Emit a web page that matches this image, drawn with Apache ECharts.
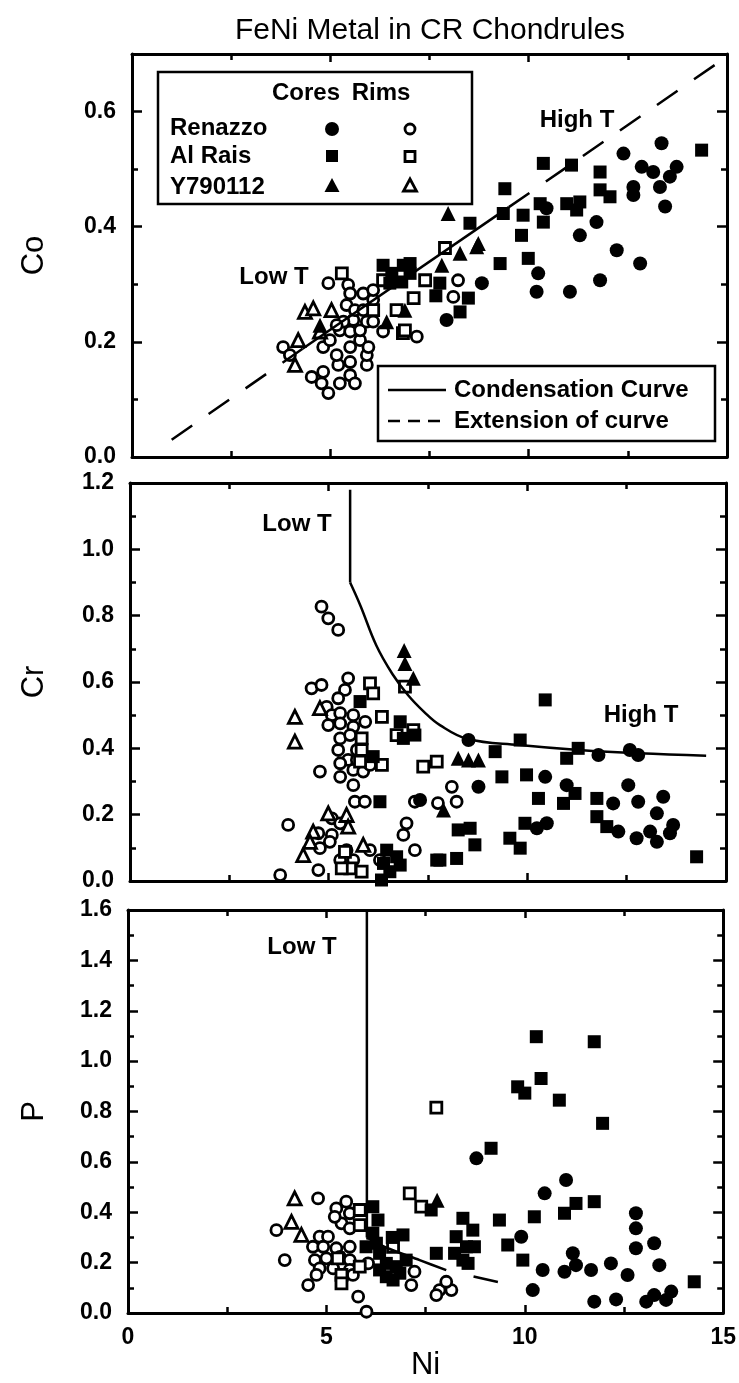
<!DOCTYPE html>
<html><head><meta charset="utf-8">
<script src="https://cdn.jsdelivr.net/npm/echarts/dist/echarts.min.js"></script>
<style>html,body{margin:0;padding:0;background:#fff}#c{width:739px;height:1383px}</style>
</head><body><div id="c"></div>
<script>
// ---------- Panel 1: Co vs Ni ----------
const renazzoCoreCo = [[12.39,0.527],[13.35,0.545],[12.85,0.504],[13.14,0.495],[13.73,0.504],[13.56,0.487],[12.64,0.469],[12.64,0.455],[13.31,0.469],[13.44,0.435],[11.71,0.408],[11.29,0.385],[12.22,0.359],[10.45,0.432],[10.24,0.319],[10.2,0.287],[11.04,0.287],[11.8,0.307],[12.81,0.336],[8.82,0.302],[7.93,0.238]];
const renazzoRimCo = [[4.95,0.302],[5.45,0.299],[3.81,0.191],[3.98,0.177],[4.53,0.139],[4.82,0.148],[4.78,0.128],[4.95,0.111],[5.24,0.128],[5.5,0.142],[5.62,0.128],[5.92,0.16],[5.92,0.177],[5.5,0.165],[5.2,0.16],[4.82,0.191],[4.99,0.203],[5.16,0.177],[5.5,0.191],[5.75,0.203],[5.96,0.191],[5.24,0.22],[5.5,0.218],[5.75,0.22],[5.92,0.235],[5.58,0.238],[5.33,0.235],[5.16,0.229],[5.41,0.264],[5.62,0.255],[5.83,0.255],[5.5,0.284],[5.83,0.284],[6.08,0.273],[6.08,0.29],[6.08,0.235],[6.33,0.218],[7.18,0.209],[8.1,0.278],[8.22,0.307]];
const alRaisCoreCo = [[14.36,0.533],[10.37,0.51],[11.08,0.507],[11.8,0.495],[11.8,0.464],[12.05,0.452],[9.4,0.466],[10.29,0.44],[10.96,0.44],[11.29,0.443],[11.21,0.429],[9.36,0.423],[9.86,0.42],[10.37,0.408],[8.52,0.406],[9.82,0.385],[9.28,0.336],[9.99,0.345],[8.48,0.276],[8.27,0.252],[7.76,0.302],[6.33,0.333],[6.55,0.319],[6.84,0.333],[7.01,0.319],[6.5,0.302],[6.8,0.304],[7.01,0.336],[7.66,0.28]];
const alRaisRimCo = [[7.89,0.363],[7.39,0.307],[7.1,0.276],[6.83,0.215],[5.29,0.319],[6.08,0.255],[6.33,0.307],[6.67,0.255],[6.88,0.22]];
const yCoreCo = [[7.97,0.423],[8.73,0.371],[8.27,0.354],[8.69,0.365],[7.81,0.333],[4.74,0.229],[6.42,0.235],[6.88,0.255]];
const yRimCo = [[4.36,0.252],[4.57,0.258],[5.03,0.255],[4.19,0.203],[4.11,0.16],[4.74,0.218]];
const coCurveLow = [[1.0,0.03],[4.3,0.188]];
const coCurveMid = [[4.3,0.188],[9.5,0.434]];
const coCurveHigh = [[9.5,0.434],[14.8,0.686]];

// ---------- Panel 2: Cr vs Ni ----------
const renazzoCoreCr = [[8.52,0.425],[11.79,0.38],[12.58,0.395],[12.79,0.38],[8.77,0.284],[10.99,0.289],[12.54,0.289],[13.42,0.254],[12.79,0.239],[12.16,0.234],[13.26,0.204],[12.29,0.149],[12.75,0.129],[13.09,0.149],[13.26,0.118],[13.67,0.169],[13.59,0.144],[10.49,0.174],[10.24,0.159],[7.3,0.244],[10.45,0.314]];
const renazzoRimCr = [[4.82,0.827],[4.99,0.792],[5.24,0.757],[4.57,0.581],[4.82,0.591],[5.49,0.611],[5.41,0.576],[5.24,0.551],[4.95,0.525],[5.08,0.5],[4.99,0.47],[5.29,0.506],[5.29,0.475],[5.62,0.5],[5.92,0.48],[5.62,0.465],[5.29,0.43],[5.54,0.44],[5.24,0.395],[5.49,0.365],[5.71,0.365],[5.29,0.355],[5.62,0.335],[5.87,0.33],[6.04,0.35],[5.71,0.395],[5.29,0.314],[5.62,0.289],[4.78,0.33],[5.66,0.239],[5.91,0.239],[7.17,0.239],[7.75,0.235],[3.98,0.169],[5.08,0.189],[5.29,0.174],[4.74,0.144],[5.08,0.139],[4.78,0.099],[5.03,0.118],[4.74,0.033],[3.78,0.018],[6.96,0.174],[6.88,0.139],[7.17,0.093],[6.04,0.093],[6.29,0.063],[5.62,0.063],[5.29,0.063],[5.45,0.093],[8.1,0.284],[8.22,0.239]];
const alRaisCoreCr = [[5.79,0.541],[6.12,0.375],[6.8,0.48],[7.17,0.44],[6.88,0.43],[6.29,0.239],[6.46,0.093],[6.38,0.053],[6.8,0.048],[6.54,0.028],[6.33,0.003],[6.71,0.073],[7.72,0.063],[10.45,0.546],[9.19,0.39],[9.82,0.425],[10.99,0.37],[11.28,0.4],[9.36,0.314],[9.98,0.32],[10.28,0.249],[10.91,0.234],[11.2,0.264],[11.75,0.249],[11.75,0.194],[12.0,0.164],[8.56,0.159],[8.26,0.154],[8.68,0.109],[9.56,0.129],[9.82,0.099],[9.94,0.174],[7.8,0.063],[8.22,0.068],[14.26,0.073]];
const alRaisRimCr = [[6.92,0.586],[6.04,0.596],[6.12,0.566],[6.34,0.495],[5.83,0.43],[5.83,0.395],[5.79,0.36],[6.34,0.35],[6.71,0.44],[7.13,0.455],[7.38,0.345],[7.72,0.36],[5.41,0.088],[5.54,0.038],[5.83,0.028],[5.33,0.038]];
const yCoreCr = [[6.9,0.695],[6.92,0.656],[7.13,0.611],[8.26,0.37],[8.52,0.365],[8.77,0.365],[7.89,0.214]];
const yRimCr = [[4.78,0.521],[4.15,0.495],[4.15,0.42],[4.99,0.204],[5.45,0.199],[4.61,0.149],[4.36,0.078],[4.53,0.118],[5.87,0.109],[5.49,0.164]];
const crCurveVert = [[5.54,1.18],[5.54,0.90]];
const crCurve = [[5.54,0.90],[5.8,0.83],[6.2,0.71],[6.6,0.625],[7.0,0.56],[7.4,0.51],[7.8,0.47],[8.5,0.428],[9.8,0.41],[11.3,0.395],[12.8,0.385],[14.5,0.378]];

// ---------- Panel 3: P vs Ni ----------
const renazzoCoreP = [[8.78,0.614],[11.04,0.528],[10.5,0.475],[9.91,0.303],[12.8,0.396],[12.8,0.336],[12.8,0.257],[13.26,0.277],[13.39,0.19],[11.21,0.237],[11.29,0.19],[11.0,0.164],[10.45,0.171],[11.67,0.171],[12.17,0.197],[12.59,0.151],[10.2,0.091],[11.75,0.045],[12.3,0.054],[13.06,0.045],[13.26,0.071],[13.56,0.052],[13.69,0.085]];
const renazzoRimP = [[4.79,0.455],[3.74,0.329],[3.95,0.21],[4.54,0.111],[5.8,0.065],[6.01,0.005],[7.14,0.111],[7.22,0.164],[5.5,0.442],[5.25,0.415],[5.59,0.396],[5.38,0.356],[5.59,0.336],[5.21,0.382],[4.83,0.303],[5.04,0.303],[4.66,0.263],[4.92,0.263],[5.25,0.257],[5.59,0.263],[4.71,0.21],[5.0,0.217],[5.34,0.223],[5.59,0.21],[4.83,0.177],[5.17,0.177],[5.59,0.171],[4.75,0.151],[5.42,0.144],[5.67,0.151],[6.05,0.197],[7.85,0.091],[8.15,0.091],[8.02,0.124],[7.77,0.071]];
const alRaisCoreP = [[10.29,1.097],[11.75,1.077],[10.41,0.931],[9.82,0.898],[10.0,0.873],[10.87,0.845],[11.96,0.753],[9.15,0.654],[9.36,0.369],[10.24,0.382],[11.0,0.396],[11.29,0.435],[11.75,0.442],[9.57,0.27],[9.95,0.21],[7.77,0.237],[14.27,0.124],[8.44,0.376],[8.69,0.329],[8.27,0.303],[8.53,0.263],[8.73,0.263],[8.23,0.237],[8.44,0.21],[8.57,0.197],[7.64,0.409],[6.17,0.422],[6.3,0.369],[6.93,0.31],[6.66,0.3],[6.17,0.317],[6.0,0.263],[6.34,0.237],[6.51,0.197],[6.76,0.184],[7.01,0.21],[6.51,0.144],[6.68,0.131],[6.34,0.171],[6.85,0.158],[6.26,0.277]];
const alRaisRimP = [[5.84,0.409],[5.84,0.349],[5.29,0.217],[5.38,0.151],[5.38,0.118],[5.84,0.184],[6.68,0.263],[7.1,0.475],[7.39,0.422],[7.77,0.815]];
const yCoreP = [[7.79,0.448]];
const yRimP = [[4.2,0.455],[4.12,0.362],[4.37,0.31]];
const pCurveVert = [[6.02,1.6],[6.02,0.30]];
const pCurve = [[6.02,0.30],[6.5,0.26],[7.35,0.21],[8.02,0.17]];
const pCurveExt = [[8.02,0.17],[9.4,0.12]];

// ---------- axes / labels ----------
const xRange = [0, 15], xStep = 5;
const yMaxes = [0.7, 1.2, 1.6];
const yNames = ['Co', 'Cr', 'P'];
const xName = 'Ni';
const titleText = 'FeNi Metal in CR Chondrules';
const legendRows = ['Renazzo', 'Al Rais', 'Y790112'];
const legendCols = ['Cores', 'Rims'];
const curveLegend = ['Condensation Curve', 'Extension of curve'];
const annotations = ['Low T', 'High T'];

const FONT = '"Liberation Sans", Arial, Helvetica, sans-serif';
const grids = [
  {left:132, top:54, width:595, height:403},
  {left:130, top:483, width:596, height:398},
  {left:128, top:910, width:596, height:403}
];

const STY = {
  rRim:  {symbol:'circle', symbolSize:11, itemStyle:{color:'#fff', borderColor:'#000', borderWidth:2.8, opacity:1}},
  aRim:  {symbol:'rect', symbolSize:11, itemStyle:{color:'#fff', borderColor:'#000', borderWidth:2.8, opacity:1}},
  yRim:  {symbol:'triangle', symbolSize:13, itemStyle:{color:'#fff', borderColor:'#000', borderWidth:2.8, opacity:1}},
  rCore: {symbol:'circle', symbolSize:14, itemStyle:{color:'#000', opacity:1}},
  aCore: {symbol:'rect', symbolSize:13, itemStyle:{color:'#000', opacity:1}},
  yCore: {symbol:'triangle', symbolSize:15, itemStyle:{color:'#000', opacity:1}}
};
const panelData = [
  {rRim:renazzoRimCo, aRim:alRaisRimCo, yRim:yRimCo, rCore:renazzoCoreCo, aCore:alRaisCoreCo, yCore:yCoreCo},
  {rRim:renazzoRimCr, aRim:alRaisRimCr, yRim:yRimCr, rCore:renazzoCoreCr, aCore:alRaisCoreCr, yCore:yCoreCr},
  {rRim:renazzoRimP, aRim:alRaisRimP, yRim:yRimP, rCore:renazzoCoreP, aCore:alRaisCoreP, yCore:yCoreP}
];
const panelCurves = [
  [{d:coCurveLow, dash:[25,20]}, {d:coCurveMid}, {d:coCurveHigh, dash:[25,20]}],
  [{d:crCurveVert}, {d:crCurve, smooth:0.4}],
  [{d:pCurveVert}, {d:pCurve, smooth:0.3}, {d:pCurveExt, dash:[25,28], offset:25}]
];

const lineW = 3;
const xAxes = [], yAxes = [], series = [];
grids.forEach((g, i) => {
  const last = i === 2;
  ['bottom','top'].forEach(pos => {
    xAxes.push({
      type:'value', gridIndex:i, position:pos, min:xRange[0], max:xRange[1], interval:xStep,
      axisLine:{show:true, onZero:false, lineStyle:{color:'#000', width:lineW}},
      axisTick:{show:true, inside:true, length:8, lineStyle:{color:'#000', width:2.5}},
      minorTick:{show:true, splitNumber:2, length:6, lineStyle:{color:'#000', width:2.5}},
      splitLine:{show:false}, minorSplitLine:{show:false},
      axisLabel:{show: last && pos==='bottom', margin:13, color:'#000', fontFamily:FONT, fontSize:23, fontWeight:'bold'},
      name: (last && pos==='bottom') ? xName : '', nameLocation:'middle', nameGap:36,
      nameTextStyle:{color:'#000', fontFamily:FONT, fontSize:31}
    });
  });
  ['left','right'].forEach(pos => {
    [0.2, 0.1].forEach(step => {
      const major = step === 0.2;
      yAxes.push({
        type:'value', gridIndex:i, position:pos, min:0, max:yMaxes[i], interval:step,
        axisLine:{show: major, onZero:false, lineStyle:{color:'#000', width:lineW}},
        axisTick:{show:true, inside:true, length: major ? 10 : 6, lineStyle:{color:'#000', width:2.5}},
        splitLine:{show:false},
        axisLabel:{show: major && pos==='left', showMaxLabel: yMaxes[i] !== 0.7, margin:16, color:'#000',
          fontFamily:FONT, fontSize:23, fontWeight:'bold', formatter: v => v.toFixed(1)},
        name: (major && pos==='left') ? yNames[i] : '', nameLocation:'middle', nameGap: g.left - 50, nameRotate:90,
        nameTextStyle:{color:'#000', fontFamily:FONT, fontSize:31}
      });
    });
  });
  panelCurves[i].forEach(c => {
    series.push({type:'line', xAxisIndex:2*i, yAxisIndex:4*i, data:c.d, symbol:'none', smooth:c.smooth || false,
      silent:true, z:3, lineStyle:{color:'#000', width:2.5, opacity:1, type:c.dash || 'solid', dashOffset:c.offset || 0}});
  });
  ['rRim','aRim','yRim','rCore','aCore','yCore'].forEach(k => {
    series.push(Object.assign({type:'scatter', xAxisIndex:2*i, yAxisIndex:4*i, data:panelData[i][k], silent:true, z:2}, STY[k]));
  });
});

function txt(text, x, y, size, align, weight) {
  return {type:'text', x:x, y:y, z:100, style:{text:text, fill:'#000',
    font: (weight || 'bold') + ' ' + size + 'px ' + FONT,
    textAlign:align||'center', align:align||'center', textVerticalAlign:'middle', verticalAlign:'middle'}};
}
const graphics = [
  txt(titleText, 430, 31, 30, 'center', 'normal'),
  {type:'rect', z:90, shape:{x:158, y:72, width:314, height:132}, style:{fill:'#fff', stroke:'#000', lineWidth:2.5}},
  txt(legendCols[0], 306, 93, 24), txt(legendCols[1], 381, 93, 24),
  txt(legendRows[0], 170, 128, 24, 'left'), txt(legendRows[1], 170, 156, 24, 'left'), txt(legendRows[2], 170, 187, 24, 'left'),
  {type:'circle', z:100, shape:{cx:332, cy:129, r:7}, style:{fill:'#000'}},
  {type:'rect', z:100, shape:{x:326, y:150, width:12, height:12}, style:{fill:'#000'}},
  {type:'polygon', z:100, shape:{points:[[332,178],[339.5,192],[324.5,192]]}, style:{fill:'#000'}},
  {type:'circle', z:100, shape:{cx:410, cy:129, r:5}, style:{fill:'#fff', stroke:'#000', lineWidth:2.8}},
  {type:'rect', z:100, shape:{x:405, y:151.5, width:10, height:10}, style:{fill:'#fff', stroke:'#000', lineWidth:2.8}},
  {type:'polygon', z:100, shape:{points:[[410,179],[416.5,191],[403.5,191]]}, style:{fill:'#fff', stroke:'#000', lineWidth:2.8}},
  {type:'rect', z:90, shape:{x:378, y:366, width:337, height:75}, style:{fill:'#fff', stroke:'#000', lineWidth:2.5}},
  {type:'line', z:100, shape:{x1:388, y1:390, x2:446, y2:390}, style:{stroke:'#000', lineWidth:2.5}},
  {type:'line', z:100, shape:{x1:388, y1:421, x2:446, y2:421}, style:{stroke:'#000', lineWidth:2.5, lineDash:[12,8]}},
  txt(curveLegend[0], 454, 390, 24, 'left'), txt(curveLegend[1], 454, 421, 24, 'left'),
  txt(annotations[0], 274, 277, 24), txt(annotations[1], 577, 120, 24),
  txt(annotations[0], 297, 524, 24), txt(annotations[1], 641, 715, 24),
  txt(annotations[0], 302, 947, 24)
];

const chart = echarts.init(document.getElementById('c'), null, {renderer:'canvas'});
chart.setOption({
  animation:false, backgroundColor:'#fff',
  grid: grids.map(g => Object.assign({containLabel:false}, g)),
  xAxis: xAxes, yAxis: yAxes, series: series, graphic: graphics
});
</script></body></html>
